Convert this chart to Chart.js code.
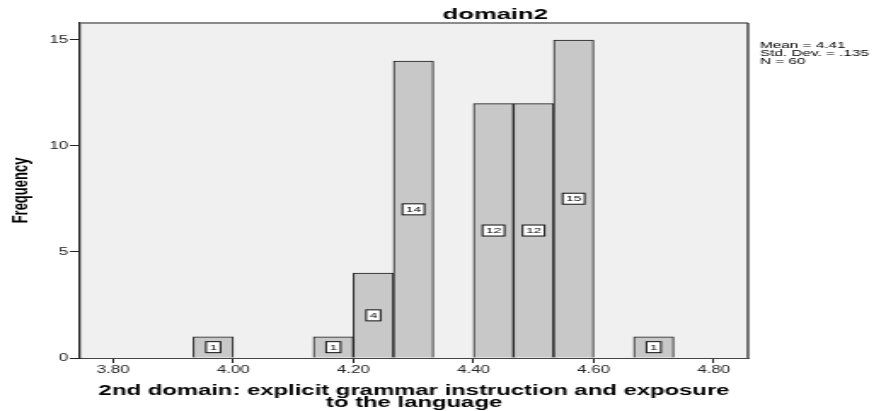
<!DOCTYPE html>
<html>
<head>
<meta charset="utf-8">
<script src="https://cdn.jsdelivr.net/npm/chart.js@4.4.1/dist/chart.umd.min.js"></script>
<style>
  html, body { margin: 0; padding: 0; background: #fff; }
  /* the reference is a horizontally stretched SPSS export, so the canvas is drawn narrow and stretched */
  #chart { display: block; width: 886px !important; height: 411px !important; }
</style>
</head>
<body>
<canvas id="chart" width="520" height="411" style="width:886px;height:411px"></canvas>
<script>
const binCenters = [3.9667, 4.1667, 4.2333, 4.3000, 4.4333, 4.5000, 4.5667, 4.7000]
const frequencies = [1, 1, 4, 14, 12, 12, 15, 1]
const xTickValues = [3.8, 4.0, 4.2, 4.4, 4.6, 4.8]
const yTickValues = [0, 5, 10, 15]
const statLines = ['Mean = 4.41', 'Std. Dev. = .135', 'N = 60']
const chartTitle = 'domain2'
const xTitle = ['2nd domain: explicit grammar instruction and exposure', 'to the language']
const yTitle = 'Frequency'

const FONT = '"Liberation Sans", Arial, sans-serif'

const plotFrame = {
    id: 'plotFrame',
    beforeDraw(chart) {
        const {ctx, chartArea: a} = chart
        ctx.save()
        ctx.fillStyle = '#f0f0f0'
        ctx.fillRect(a.left, a.top, a.right - a.left, a.bottom - a.top)
        ctx.restore()
    },
    afterDraw(chart) {
        const {ctx, chartArea: a} = chart
        ctx.save()
        ctx.strokeStyle = '#8a8a8a'
        ctx.lineWidth = 2
        ctx.beginPath()
        ctx.moveTo(a.left, a.top)
        ctx.lineTo(a.right, a.top)
        ctx.stroke()
        ctx.strokeStyle = '#1a1a1a'
        ctx.lineWidth = 1.2
        ctx.beginPath()
        ctx.moveTo(a.right, a.top)
        ctx.lineTo(a.right, a.bottom)
        ctx.stroke()

        // title and summary statistics
        ctx.fillStyle = '#000'
        ctx.font = 'bold 15px ' + FONT
        ctx.textAlign = 'center'
        ctx.textBaseline = 'alphabetic'
        ctx.fillText(chartTitle, chart.width * 0.559, 18.5)

        ctx.font = '9px ' + FONT
        ctx.textAlign = 'left'
        statLines.forEach((line, i) => {
            ctx.fillText(line, a.right + 7, 48 + i * 7.8)
        })
        ctx.restore()
    }
}

const countLabels = {
    id: 'countLabels',
    afterDatasetsDraw(chart) {
        const {ctx} = chart
        const meta = chart.getDatasetMeta(0)
        ctx.save()
        ctx.font = '8px ' + FONT
        ctx.textAlign = 'center'
        ctx.textBaseline = 'middle'
        meta.data.forEach((bar, i) => {
            const text = String(frequencies[i])
            const w = ctx.measureText(text).width + 4
            const h = 11
            const cy = (bar.y + bar.base) / 2
            ctx.fillStyle = '#fff'
            ctx.fillRect(bar.x - w / 2, cy - h / 2, w, h)
            ctx.strokeStyle = '#111'
            ctx.lineWidth = 1
            ctx.strokeRect(bar.x - w / 2, cy - h / 2, w, h)
            ctx.fillStyle = '#000'
            ctx.fillText(text, bar.x, cy + 0.5)
        })
        ctx.restore()
    }
}

new Chart(document.getElementById('chart'), {
    type: 'bar',
    data: {
        datasets: [{
            data: binCenters.map((x, i) => ({x: x, y: frequencies[i]})),
            backgroundColor: '#c8c8c8',
            borderColor: '#1a1a1a',
            borderWidth: 1,
            barPercentage: 1,
            categoryPercentage: 1
        }]
    },
    options: {
        responsive: false,
        animation: false,
        devicePixelRatio: 1,
        layout: {padding: {top: 23, right: 81, left: 0, bottom: 0}},
        plugins: {
            legend: {display: false},
            tooltip: {enabled: false}
        },
        scales: {
            x: {
                type: 'linear',
                min: 3.745,
                max: 4.857,
                offset: false,
                afterBuildTicks: (scale) => {
                    scale.ticks = xTickValues.map(value => ({value}))
                },
                afterFit: (scale) => {
                    scale.height = 53
                },
                grid: {
                    display: true,
                    offset: false,
                    drawOnChartArea: false,
                    tickLength: 5,
                    color: '#222',
                    lineWidth: 1
                },
                border: {display: true, color: '#444', width: 1},
                ticks: {
                    padding: 1,
                    color: '#222',
                    font: {family: FONT, size: 10},
                    maxRotation: 0,
                    autoSkip: false,
                    callback: (value) => Number(value).toFixed(2)
                },
                title: {
                    display: true,
                    text: xTitle,
                    color: '#000',
                    font: {family: FONT, size: 14, weight: 'bold', lineHeight: 0.86},
                    padding: {top: 0, bottom: 2}
                }
            },
            y: {
                min: 0,
                max: 15.8,
                afterBuildTicks: (scale) => {
                    scale.ticks = yTickValues.map(value => ({value}))
                },
                afterFit: (scale) => {
                    scale.width = 47
                },
                grid: {
                    display: true,
                    drawOnChartArea: false,
                    tickLength: 6,
                    color: '#222',
                    lineWidth: 1
                },
                border: {display: true, color: '#222', width: 1.3},
                ticks: {
                    padding: 1,
                    color: '#222',
                    font: {family: FONT, size: 10}
                },
                title: {
                    display: true,
                    text: yTitle,
                    color: '#000',
                    font: {family: FONT, size: 13, weight: 'bold'},
                    padding: {top: 5, bottom: 0}
                }
            }
        }
    },
    plugins: [plotFrame, countLabels]
})
</script>
</body>
</html>
